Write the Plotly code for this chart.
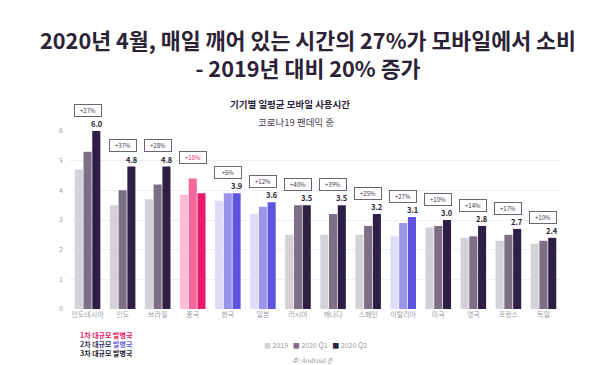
import plotly.graph_objects as go

countries = ["인도네시아", "인도", "브라질", "중국", "한국", "일본", "러시아",
             "캐나다", "스페인", "이탈리아", "미국", "영국", "프랑스", "독일"]
v2019 = [4.7, 3.5, 3.7, 3.85, 3.65, 3.2, 2.5, 2.5, 2.5, 2.45, 2.75, 2.4, 2.3, 2.2]
v2020q1 = [5.3, 4.0, 4.2, 4.4, 3.9, 3.45, 3.5, 3.2, 2.8, 2.9, 2.8, 2.45, 2.5, 2.3]
v2020q2 = [6.0, 4.8, 4.8, 3.9, 3.9, 3.6, 3.5, 3.5, 3.2, 3.1, 3.0, 2.8, 2.7, 2.4]
value_labels = ["6.0", "4.8", "4.8", "", "3.9", "3.6", "3.5", "3.5", "3.2", "3.1", "3.0", "2.8", "2.7", "2.4"]
growth = ["+27%", "+37%", "+28%", "+15%", "+5%", "+12%", "+40%", "+39%", "+25%", "+27%", "+10%", "+14%", "+17%", "+10%"]
wave = [3, 3, 3, 1, 2, 2, 3, 3, 3, 2, 3, 3, 3, 3]
series_names = ["2019", "2020 Q1", "2020 Q2"]
y_ticks = [0, 1, 2, 3, 4, 5, 6]
Y_MAX = 6

palette = {
    3: ["#d4d1d8", "#7c6f86", "#2e1f45"],
    1: ["#fbbcd5", "#f2689b", "#e8196b"],
    2: ["#dedcf6", "#9a95eb", "#5c54df"],
}

FONT = "Noto Sans CJK KR"
L, R, T, B = 62, 47, 123, 64
PW, PH = 600 - L - R, 365 - T - B


def px(xp):
    return (xp - L) / PW


def py(yp):
    return (365 - B - yp) / PH


fig = go.Figure()
for i, (name, vals) in enumerate(zip(series_names, [v2019, v2020q1, v2020q2])):
    fig.add_trace(go.Bar(
        x=countries, y=vals, name=name,
        marker=dict(color=[palette[w][i] for w in wave], line=dict(width=0)),
        showlegend=False, hoverinfo="skip",
    ))

ann = []
for c, lab, g, w, a, b, q in zip(countries, value_labels, growth, wave, v2019, v2020q1, v2020q2):
    top = max(a, b, q)
    if lab:
        ann.append(dict(x=c, y=q / Y_MAX, yref="paper", text=f"<b>{lab}</b>", showarrow=False,
                        yanchor="bottom", xanchor="center", xshift=9,
                        font=dict(size=7.5, color="#2b2236", family=FONT)))
    ann.append(dict(x=c, y=(top + 0.7) / Y_MAX, yref="paper", text=g, showarrow=False,
                    yanchor="middle", xanchor="center",
                    bordercolor="#6a6470", borderwidth=1, borderpad=1, bgcolor="white",
                    width=24, height=9,
                    font=dict(size=6, color="#e8196b" if w == 1 else "#3b3346", family=FONT)))


def note(xp, yp, text, size, color, xanchor="center"):
    return dict(xref="paper", yref="paper", x=px(xp), y=py(yp), showarrow=False,
                xanchor=xanchor, yanchor="middle", text=text,
                font=dict(size=size, color=color, family=FONT))


ann += [
    note(300, 46, "<b>2020년 4월, 매일 깨어 있는 시간의 27%가 모바일에서 소비<br>"
                  "- 2019년 대비 20% 증가</b>", 21.7, "#2b2236"),
    note(282, 96, "<b>기기별 일평균 모바일 사용시간</b>", 9.5, "#2b2236"),
    note(288, 114, "코로나19 팬데믹 중", 9.5, "#4a4352"),
    note(70, 327, "<b>1차 대규모 발병국</b>", 7, "#e8196b", "left"),
    note(70, 336, "<b>2차 대규모 <span style='color:#6b64e0'>발병국</span></b>", 7, "#3a3560", "left"),
    note(70, 345, "<b>3차 대규모 발병국</b>", 7, "#2b2236", "left"),
    note(307, 337,
         (f"<span style='color:{palette[3][0]}'>■</span> {series_names[0]}   "
          f"<span style='color:{palette[3][1]}'>■</span> {series_names[1]}   "
          f"<span style='color:{palette[3][2]}'>■</span> {series_names[2]}"),
         7, "#9a97a0"),
    note(305, 352, "<i>주: Android 폰</i>", 6.5, "#9a97a0"),
]

fig.update_layout(
    width=600, height=365,
    margin=dict(l=L, r=R, t=T, b=B),
    paper_bgcolor="white", plot_bgcolor="white",
    barmode="group", bargap=0.25, bargroupgap=0.08,
    annotations=ann,
    font=dict(family=FONT),
)
fig.update_xaxes(tickfont=dict(size=7, color="#a09ca6", family=FONT), showline=False,
                 ticks="", showgrid=False)
fig.update_yaxes(range=[0, Y_MAX], tickvals=y_ticks, tickfont=dict(size=7, color="#a09ca6", family=FONT),
                 showgrid=True, gridcolor="#efeef1", gridwidth=1, zeroline=False, ticks="",
                 ticklabelstandoff=6)

fig.write_html("out.html")
